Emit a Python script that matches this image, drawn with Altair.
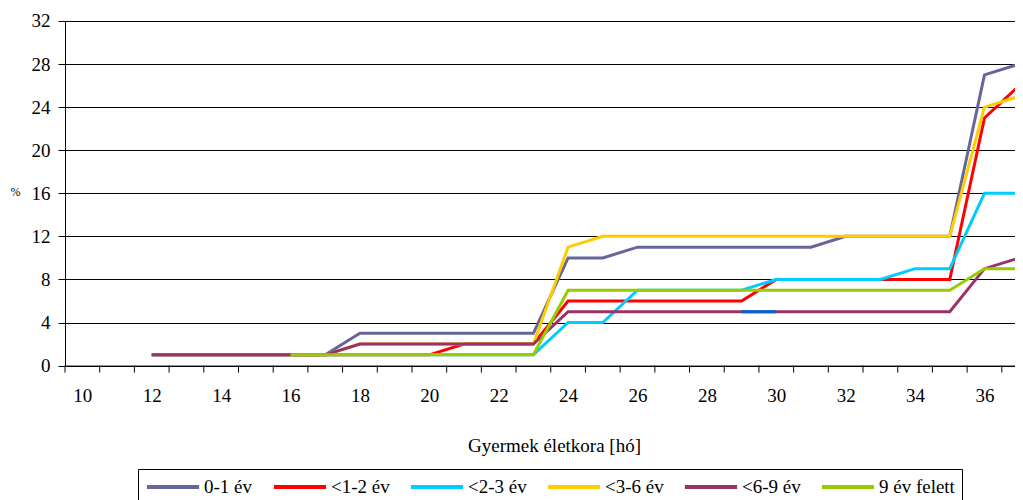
import altair as alt
import pandas as pd

months = list(range(12, 38))  # 12 .. 37

series_names = ["0-1 év", "<1-2 év", "<2-3 év", "<3-6 év", "<6-9 év", "9 év felett"]
series_colors = ["#666699", "#FF0000", "#00CCFF", "#FFCC00", "#993366", "#99CC00"]

# values for months 12..37 (None = no data)
v_0_1 = [1, 1, 1, 1, 1, 1, 3, 3, 3, 3, 3, 3, 10, 10, 11, 11, 11, 11, 11, 11, 12, 12, 12, 12, 27, 28]
v_1_2 = [1, 1, 1, 1, 1, 1, 1, 1, 1, 2, 2, 2, 6, 6, 6, 6, 6, 6, 8, 8, 8, 8, 8, 8, 23, 26]
v_2_3 = [1, 1, 1, 1, 1, 1, 1, 1, 1, 1, 1, 1, 4, 4, 7, 7, 7, 7, 8, 8, 8, 8, 9, 9, 16, 16]
v_3_6 = [1, 1, 1, 1, 1, 1, 2, 2, 2, 2, 2, 2, 11, 12, 12, 12, 12, 12, 12, 12, 12, 12, 12, 12, 24, 25]
v_6_9 = [1, 1, 1, 1, 1, 1, 2, 2, 2, 2, 2, 2, 5, 5, 5, 5, 5, 5, 5, 5, 5, 5, 5, 5, 9, 10]
v_9p = [None, None, None, None, 1, 1, 1, 1, 1, 1, 1, 1, 7, 7, 7, 7, 7, 7, 7, 7, 7, 7, 7, 7, 9, 9]

extra_months = [29, 30]
extra_values = [5, 5]

x_tick_labels = list(range(10, 37, 2))
y_ticks = list(range(0, 33, 4))
x_tick_marks = [m + 0.5 for m in range(9, 37)]

all_values = [v_0_1, v_1_2, v_2_3, v_3_6, v_6_9, v_9p]
rows = []
for order, (name, vals) in enumerate(zip(series_names, all_values)):
    for m, v in zip(months, vals):
        if v is not None:
            rows.append({"ho": m, "pct": v, "csoport": name, "ord": order})
df = pd.DataFrame(rows)
df_extra = pd.DataFrame({"ho": extra_months, "pct": extra_values})
df_ticks = pd.DataFrame({"t": x_tick_marks})

FONT = "Liberation Serif"
W = 950
H = 344.6

xscale = alt.Scale(domain=[9.5, 36.88], nice=False, zero=False)
yscale = alt.Scale(domain=[0, 32], nice=False)

lines = alt.Chart(df).mark_line(strokeWidth=3).encode(
    x=alt.X("ho:Q", scale=xscale,
            axis=alt.Axis(values=x_tick_labels, ticks=False, grid=False,
                          labelFont=FONT, labelFontSize=19, labelColor="black",
                          labelPadding=21, labelFlush=False,
                          domainColor="black", domainWidth=1,
                          title="Gyermek életkora [hó]", titleFont=FONT,
                          titleFontSize=19, titleFontWeight="normal",
                          titleColor="black", titleX=489, titleY=80,
                          titleAlign="center", titleBaseline="middle")),
    y=alt.Y("pct:Q", scale=yscale,
            axis=alt.Axis(values=y_ticks, grid=True, gridColor="black",
                          gridWidth=1, tickColor="black", tickSize=7,
                          labelFont=FONT, labelFontSize=19, labelColor="black",
                          labelPadding=8, domainColor="black", domainWidth=1,
                          title="%", titleFont=FONT, titleFontSize=12,
                          titleFontWeight="normal", titleColor="black",
                          titleAngle=0, titleX=-50, titleY=171,
                          titleAlign="center", titleBaseline="middle")),
    color=alt.Color("csoport:N",
                    scale=alt.Scale(domain=series_names, range=series_colors),
                    sort=series_names,
                    legend=alt.Legend(orient="none", legendX=73, legendY=448,
                                      direction="horizontal", columns=6,
                                      title=None,
                                      symbolType="M-2.9,0H2.9",
                                      symbolSize=324, symbolStrokeWidth=4,
                                      symbolOffset=17,
                                      labelFont=FONT, labelFontSize=19,
                                      labelColor="black", labelOffset=20,
                                      strokeColor="black", fillColor="white",
                                      padding=7, gridAlign="each",
                                      columnPadding=12)),
    order=alt.Order("ord:Q"),
    detail="ord:Q",
)

extra = alt.Chart(df_extra).mark_line(strokeWidth=3, color="#0066CC").encode(
    x=alt.X("ho:Q", scale=xscale),
    y=alt.Y("pct:Q", scale=yscale),
)

ticks = alt.Chart(df_ticks).mark_rule(color="black", strokeWidth=1).encode(
    x=alt.X("t:Q", scale=xscale),
    y=alt.value(H),
    y2=alt.value(H + 7),
)

chart = alt.layer(lines, extra, ticks).properties(
    width=W, height=H,
    autosize=alt.AutoSizeParams(type="none"),
    padding={"left": 57, "top": 13, "right": 0, "bottom": 134},
    background="white",
).configure(font=FONT).configure_view(stroke=None)

chart.save("out.html", embed_options={"renderer": "svg", "actions": False})
